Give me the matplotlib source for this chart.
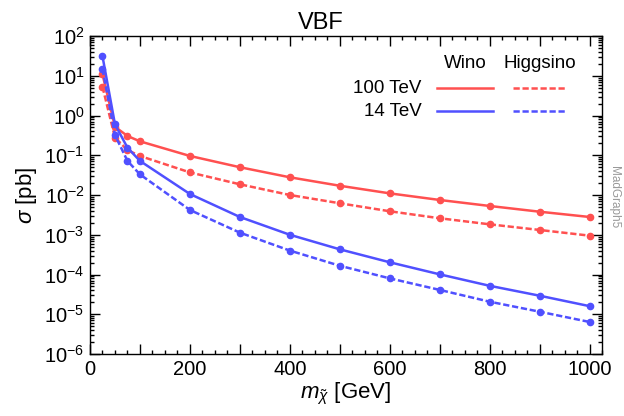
import numpy as np
import matplotlib
matplotlib.use("Agg")
import matplotlib.pyplot as plt
from matplotlib.ticker import MultipleLocator, FuncFormatter, LogLocator

plt.rcParams['font.family'] = ['Liberation Sans', 'DejaVu Sans']
plt.rcParams['mathtext.fontset'] = 'custom'
plt.rcParams['mathtext.rm'] = 'Liberation Sans'
plt.rcParams['mathtext.it'] = 'Liberation Sans:italic'
plt.rcParams['mathtext.bf'] = 'Liberation Sans:bold'

# masy [GeV]
masa = [25, 50, 75, 100, 200, 300, 400, 500, 600, 700, 800, 900, 1000]

# przekroje czynne [pb]
wino_100 = [10.9, 0.52, 0.305, 0.224, 0.096, 0.050, 0.0279, 0.0171, 0.0110, 0.0075, 0.0053, 0.0038, 0.0028]
higgsino_100 = [5.3, 0.277, 0.135, 0.096, 0.037, 0.0186, 0.0100, 0.0062, 0.0039, 0.0026, 0.00183, 0.00132, 0.00095]
wino_14 = [30.9, 0.60, 0.155, 0.072, 0.0106, 0.0028, 0.00100, 0.00043, 0.000203, 0.000101, 5.2e-5, 2.93e-5, 1.6e-5]
higgsino_14 = [15.0, 0.32, 0.072, 0.033, 0.0042, 0.00113, 0.00040, 0.000166, 8.0e-5, 4.1e-5, 2.07e-5, 1.16e-5, 6.4e-6]

czerwony = '#ff5050'
niebieski = '#5050ff'
kreski = (0, (2.5, 1.1))

fig = plt.figure(figsize=(6.24, 4.16), dpi=100)
ax = fig.add_axes([90/624, 1 - 354/416, 512/624, 318/416])

ax.plot(masa, wino_100, color=czerwony, lw=1.8, marker='o', ms=4.5)
ax.plot(masa, higgsino_100, color=czerwony, lw=1.8, ls=kreski, marker='o', ms=4.5)
ax.plot(masa, wino_14, color=niebieski, lw=1.8, marker='o', ms=4.5)
ax.plot(masa, higgsino_14, color=niebieski, lw=1.8, ls=kreski, marker='o', ms=4.5)

ax.set_yscale('log')
ax.set_xlim(0, 1025)
ax.set_ylim(1e-6, 1e2)

ax.xaxis.set_major_locator(MultipleLocator(100))
ax.xaxis.set_minor_locator(MultipleLocator(25))
ax.xaxis.set_major_formatter(FuncFormatter(lambda v, p: '%d' % v if int(round(v)) % 200 == 0 else ''))
ax.yaxis.set_major_locator(LogLocator(base=10, numticks=20))
ax.yaxis.set_minor_locator(LogLocator(base=10, subs=np.arange(2, 10), numticks=20))

ax.tick_params(which='both', direction='in', top=True, right=True, labelsize=14.5, width=1.0)
ax.tick_params(which='major', length=7, pad=4)
ax.tick_params(which='minor', length=3)
for s in ax.spines.values():
    s.set_linewidth(1.0)

ax.set_title('VBF', fontsize=17, x=0.45, pad=5)
ax.set_xlabel(r'$m_{\tilde{\chi}}$ [GeV]', fontsize=16, labelpad=2)
ax.set_ylabel(r'$\sigma$ [pb]', fontsize=16, labelpad=4)

# legenda recznie
ax.text(0.733, 0.912, 'Wino', transform=ax.transAxes, ha='center', va='center', fontsize=13.5)
ax.text(0.879, 0.912, 'Higgsino', transform=ax.transAxes, ha='center', va='center', fontsize=13.5)
ax.text(0.648, 0.836, '100 TeV', transform=ax.transAxes, ha='right', va='center', fontsize=13.5)
ax.text(0.648, 0.764, '14 TeV', transform=ax.transAxes, ha='right', va='center', fontsize=13.5)
ax.plot([0.678, 0.787], [0.836, 0.836], transform=ax.transAxes, color=czerwony, lw=1.8)
ax.plot([0.826, 0.928], [0.836, 0.836], transform=ax.transAxes, color=czerwony, lw=1.8, ls=kreski)
ax.plot([0.678, 0.787], [0.764, 0.764], transform=ax.transAxes, color=niebieski, lw=1.8)
ax.plot([0.826, 0.928], [0.764, 0.764], transform=ax.transAxes, color=niebieski, lw=1.8, ls=kreski)

fig.text(614/624, 1 - 197/416, 'MadGraph5', rotation=270, ha='center', va='center', fontsize=8.5, color='#999999')

fig.savefig('out.png', dpi=100)
